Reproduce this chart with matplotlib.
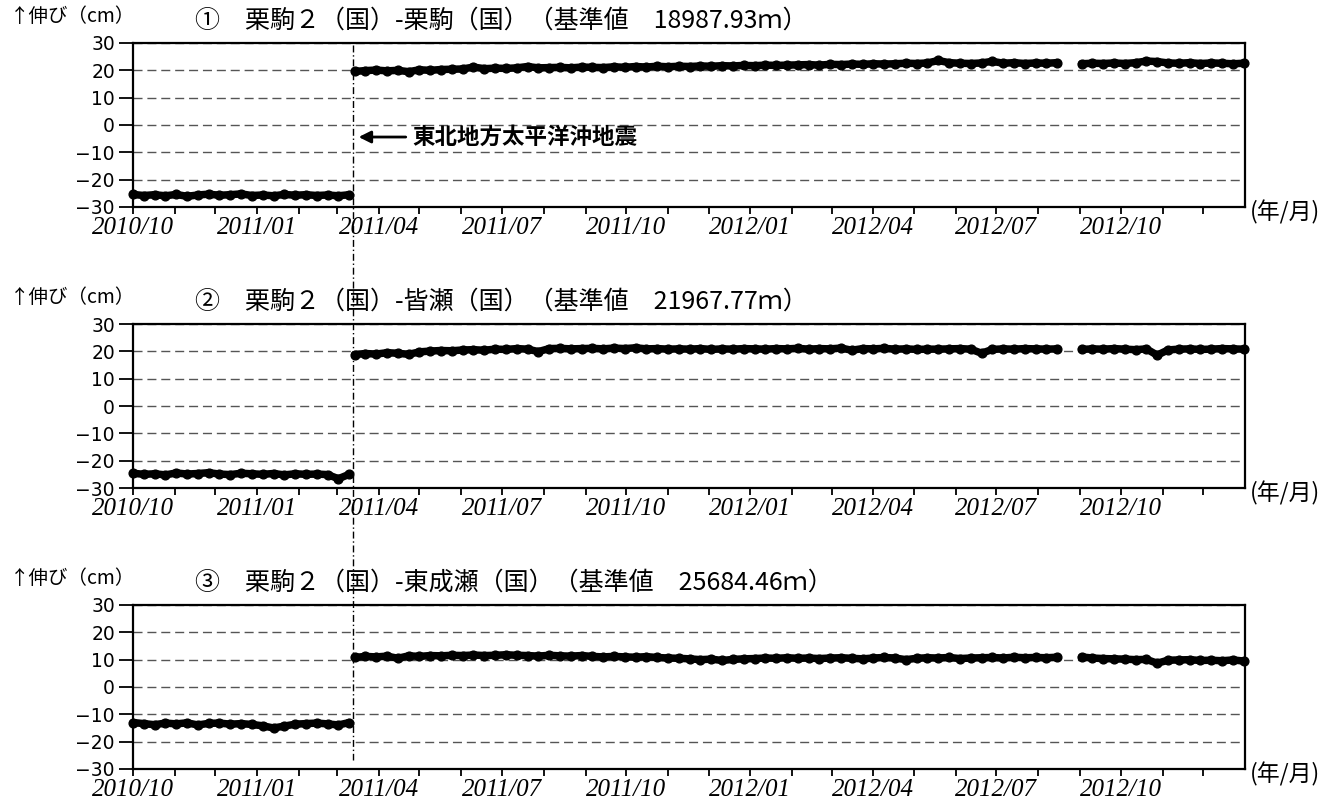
import matplotlib
matplotlib.use("Agg")
import matplotlib.pyplot as plt
import matplotlib.dates as mdates
import matplotlib.transforms as mtransforms
from matplotlib.lines import Line2D
import pandas as pd

plt.rcParams['font.family'] = ['Noto Sans CJK JP', 'DejaVu Sans']

# ---------------- data ----------------
titles = [
    "①　栗駒２（国）-栗駒（国）（基準値　18987.93ｍ）",
    "②　栗駒２（国）-皆瀬（国）（基準値　21967.77ｍ）",
    "③　栗駒２（国）-東成瀬（国）（基準値　25684.46ｍ）",
]
ylabel_text = "↑伸び（cm）"
xunit_text = "(年/月)"
quake_text = "東北地方太平洋沖地震"
quake_date = "2011-03-13"

pre_start = "2010-10-01"     # every 8 days
post1_start = "2011-03-14"   # every 8 days
post2_start = "2012-09-02"   # every 8 days
step = "8D"

pre_1 = [-25.4, -25.8, -25.5, -25.9, -25.4, -26.1, -25.6, -25.3, -25.7, -25.5, -25.2,
         -25.8, -25.6, -25.9, -25.4, -25.7, -25.5, -25.8, -25.6, -25.9, -25.5]
post1_1 = [19.6, 19.9, 20.1, 19.8, 20.0, 19.5, 20.2, 20.0, 20.3, 20.4,
           20.5, 21.2, 20.6, 20.8, 20.7, 20.9, 21.4, 20.9, 21.0, 21.1,
           20.9, 21.2, 21.1, 21.0, 21.3, 21.1, 21.4, 21.2, 21.5, 21.3,
           21.5, 21.4, 21.6, 21.5, 21.7, 21.6, 21.8, 21.7, 21.9, 21.8,
           21.9, 22.0, 22.1, 21.9, 22.2, 22.1, 22.3, 22.2, 22.4, 22.3,
           22.4, 22.6, 22.5, 22.7, 23.6, 22.8, 22.6, 22.5, 22.7, 23.3,
           22.6, 22.8, 22.5, 22.7, 22.6, 22.8]
post2_1 = [22.4, 22.6, 22.5, 22.7, 22.5, 22.8, 23.4, 23.2, 22.7, 22.6, 22.8, 22.5,
           22.7, 22.6, 22.4, 22.6]

pre_2 = [-24.6, -25.0, -24.8, -25.2, -24.5, -24.9, -24.7, -24.4, -24.9, -25.1, -24.6,
         -24.8, -25.0, -24.7, -25.2, -24.8, -25.0, -24.9, -25.1, -26.6, -25.0]
post1_2 = [18.8, 19.2, 19.0, 19.5, 19.3, 18.9, 19.8, 20.1, 20.3, 20.2,
           20.5, 20.6, 20.4, 20.8, 20.7, 21.0, 20.8, 19.9, 21.0, 21.1,
           20.9, 21.0, 21.1, 20.9, 21.2, 21.0, 21.3, 20.9, 21.0, 20.8,
           20.9, 20.8, 21.0, 20.7, 20.9, 20.8, 21.0, 20.9, 20.8, 21.0,
           20.9, 21.1, 20.8, 21.0, 20.9, 21.2, 20.4, 21.0, 20.9, 21.1,
           20.8, 20.9, 20.7, 20.8, 20.8, 20.9, 21.0, 20.8, 19.3, 20.7,
           20.9, 20.8, 21.0, 20.9, 20.8, 20.9]
post2_2 = [20.7, 20.9, 20.8, 21.0, 20.8, 20.6, 20.9, 18.6, 20.5, 20.8, 20.9, 20.7,
           20.8, 21.0, 20.9, 20.8]

pre_3 = [-13.0, -13.4, -13.8, -13.2, -13.5, -13.1, -13.9, -13.3, -13.2, -13.6, -13.4,
         -13.7, -14.2, -15.0, -14.3, -13.6, -13.4, -13.2, -13.5, -13.9, -13.0]
post1_3 = [10.8, 11.2, 11.0, 11.3, 10.5, 11.4, 11.2, 11.5, 11.4, 11.6,
           11.5, 11.7, 11.5, 11.6, 11.8, 11.6, 11.5, 11.3, 11.6, 11.4,
           11.3, 11.5, 11.2, 11.0, 11.2, 11.0, 10.9, 11.1, 10.8, 10.6,
           10.5, 10.3, 10.0, 10.2, 9.7, 10.1, 10.3, 10.4, 10.6, 10.5,
           10.7, 10.5, 10.6, 10.4, 10.6, 10.7, 10.5, 10.3, 10.6, 10.8,
           10.6, 10.0, 10.5, 10.7, 10.6, 10.8, 10.4, 10.6, 10.7, 10.8,
           10.6, 10.9, 10.7, 10.8, 10.7, 10.9]
post2_3 = [11.0, 10.6, 10.4, 10.3, 10.2, 10.0, 10.1, 8.7, 9.8, 9.9, 10.0, 9.7,
           9.8, 9.6, 9.9, 9.5]

series = [(pre_1, post1_1, post2_1), (pre_2, post1_2, post2_2), (pre_3, post1_3, post2_3)]

yticks = [-30, -20, -10, 0, 10, 20, 30]
xlim = ("2010-10-01", "2013-01-01")
month_ticks = pd.date_range("2010-10-01", "2012-12-01", freq="MS")
month_labels = [f"{d.year}/{d.month:02d}" if d.month in (1, 4, 7, 10) else "" for d in month_ticks]

# ---------------- figure ----------------
W, H = 1341, 808
fig = plt.figure(figsize=(W / 100, H / 100), dpi=100)

ax_left = 133 / W
ax_w = (1245 - 133) / W
ax_h = 164 / H
tops = [43, 324, 605]
axes = []
for i, top in enumerate(tops):
    ax = fig.add_axes([ax_left, 1 - (top + 164) / H, ax_w, ax_h])
    axes.append(ax)
    pre, p1, p2 = series[i]
    for start, vals in ((pre_start, pre), (post1_start, p1), (post2_start, p2)):
        d = pd.date_range(start, periods=len(vals), freq=step)
        ax.plot(d, vals, color="black", lw=5.4, marker="o", ms=6.3,
                solid_capstyle="round", solid_joinstyle="round",
                zorder=3, clip_on=False)
    ax.set_ylim(-30, 30)
    ax.set_yticks(yticks)
    ax.set_yticklabels([str(v).replace("-", "−") for v in yticks],
                       fontfamily="DejaVu Sans", fontsize=13.5)
    ax.set_xlim(pd.Timestamp(xlim[0]), pd.Timestamp(xlim[1]))
    ax.set_xticks(month_ticks)
    ax.set_xticklabels(month_labels, fontfamily="Liberation Serif",
                       fontstyle="italic", fontsize=18)
    ax.tick_params(axis="y", length=10, width=1.3, pad=3, direction="out")
    ax.tick_params(axis="x", length=5, width=1.3, pad=2, direction="out")
    ax.yaxis.grid(True, color="#555555", lw=1.0, linestyle=(0, (6.5, 3.5)))
    ax.xaxis.grid(False)
    for s in ax.spines.values():
        s.set_linewidth(1.6)
        s.set_color("black")
    ax.text(62 / 1112, 1 + 22 / 164, titles[i], transform=ax.transAxes,
            ha="left", va="center", fontsize=18)
    ax.text(-123 / 1112, 1 + 26 / 164, ylabel_text, transform=ax.transAxes,
            ha="left", va="center", fontsize=14)
    ax.text(1.004, -0.03, xunit_text, transform=ax.transAxes,
            ha="left", va="center", fontsize=16.5)

# earthquake vertical dash-dot line spanning all panels
qd = mdates.date2num(pd.Timestamp(quake_date))
trans = mtransforms.blended_transform_factory(axes[0].transData, fig.transFigure)
fig.add_artist(Line2D([qd, qd], [1 - 45 / H, 1 - 760 / H], transform=trans,
                      color="black", lw=1.0, linestyle=(0, (5, 2, 1, 2)), clip_on=False))

# annotation
axes[0].annotate(quake_text, xy=(pd.Timestamp("2011-03-17"), -4.4),
                 xytext=(pd.Timestamp("2011-04-26"), -4.4),
                 ha="left", va="center", fontsize=16.2, fontweight="bold",
                 arrowprops=dict(arrowstyle="-|>", color="black", lw=2.0,
                                 mutation_scale=18, shrinkA=3, shrinkB=0))

fig.savefig("out.png", dpi=100)
